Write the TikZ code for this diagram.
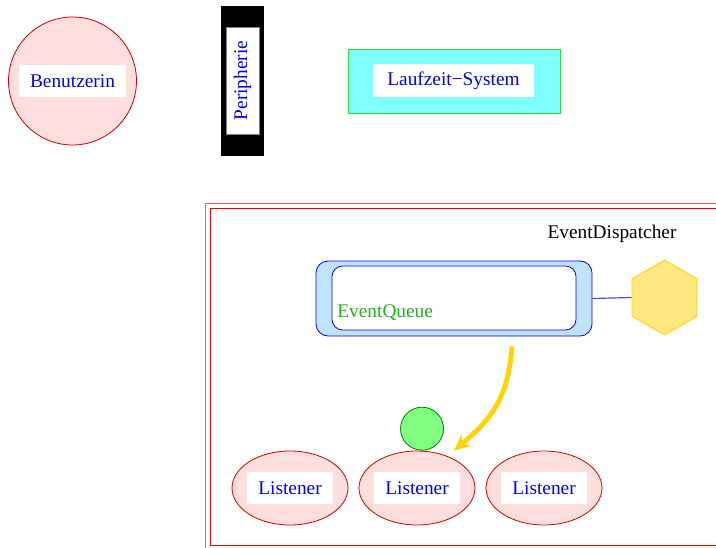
\documentclass[tikz,border=0pt]{standalone}
\usepackage{fontspec}
\setmainfont{Liberation Serif}
\usepackage{xcolor}
\usetikzlibrary{shapes.geometric,positioning,arrows.meta}
\definecolor{rosa}{RGB}{255,222,222}
\definecolor{rand}{RGB}{210,0,0}
\definecolor{tuerkis}{RGB}{128,255,255}
\definecolor{gruenrand}{RGB}{50,220,50}
\definecolor{hellblau}{RGB}{192,228,255}
\definecolor{gelb}{RGB}{255,232,128}
\definecolor{gold}{RGB}{255,212,0}
\definecolor{kreisgruen}{RGB}{128,255,128}
\definecolor{textgruen}{RGB}{30,180,30}

\tikzset{
  schild/.style={fill=white, text=blue, inner sep=0pt, minimum height=24.5pt},
  listener/.style={ellipse, draw=rand, fill=rosa, minimum width=87pt, minimum height=55.5pt},
}

\begin{document}
\begin{tikzpicture}[x=0.75pt, y=-0.75pt, line width=0.6pt, font=\fontsize{14.5}{17}\selectfont]
  \useasboundingbox (0,0) rectangle (716,548);
  \clip (0,0) rectangle (716,548);

  % Benutzerin
  \node[circle, draw=rand, fill=rosa, minimum size=96pt] (benutzerin) at (72.5,81) {};
  \node[schild, minimum width=80pt] (benutzerinT) at (benutzerin) {Benutzerin};

  % Peripherie
  \node[fill=black, minimum width=32.25pt, minimum height=112.5pt] (peripherie) at (242.5,81) {};
  \node[schild, draw=gray, rotate=90, minimum width=80.25pt, minimum height=24.75pt] (peripherieT) at (242.5,80.5) {Peripherie};

  % Laufzeit-System
  \node[draw=gruenrand, fill=tuerkis, minimum width=159pt, minimum height=48pt] (laufzeit) at (454,81) {};
  \node[schild, minimum width=120.75pt] (laufzeitT) at (453.5,80.5) {Laufzeit−System};

  % EventDispatcher (doppelter Rahmen)
  \draw[red!65] (205,203) rectangle (740,548);
  \draw[red] (210.5,208) rectangle (740,545.5);
  \node (dispatcher) at (612,234) {EventDispatcher};

  % EventQueue
  \node[draw=blue, fill=hellblau, rounded corners=9pt, minimum width=207pt, minimum height=56.25pt] (queue) at (454,298.5) {};
  \node[draw=blue, fill=white, rounded corners=8pt, minimum width=183pt, minimum height=48pt] (queueIn) at (454,298) {};
  \node[anchor=base west, text=textgruen, inner sep=0pt] (queueT) at (337,318) {EventQueue};

  % Hexagon
  \node[regular polygon, regular polygon sides=6, shape border rotate=30, draw=gold, fill=gelb,
        minimum size=56.25pt, inner sep=0pt] (hex) at (664.5,297.5) {};
  \draw[blue!70, line width=0.9pt] (queue.east) -- (hex.west);

  % Listener
  \foreach \i/\x in {1/290, 2/417, 3/544} {
    \node[listener] (listener\i) at (\x,488) {};
    \node[schild, minimum width=64.5pt, minimum height=24pt] (listener\i T) at (\x,488.3) {Listener};
  }

  % gruener Kreis
  \node[circle, draw=green!50!black, fill=kreisgruen, minimum size=32.25pt, inner sep=0pt,
        above=0pt of listener2, xshift=3.75pt] (kreis) {};

  % Pfeil von der Queue zum Listener
  \coordinate (qout) at ([shift={(58,10)}]queue.south);
  \coordinate (lin) at ([shift={(37,0)}]listener2.north);
  \draw[gold, line width=3.6pt, -{Stealth[length=12pt, width=11pt]}]
    (qout) .. controls (508,400) and (490,420) .. (lin);

\end{tikzpicture}
\end{document}
